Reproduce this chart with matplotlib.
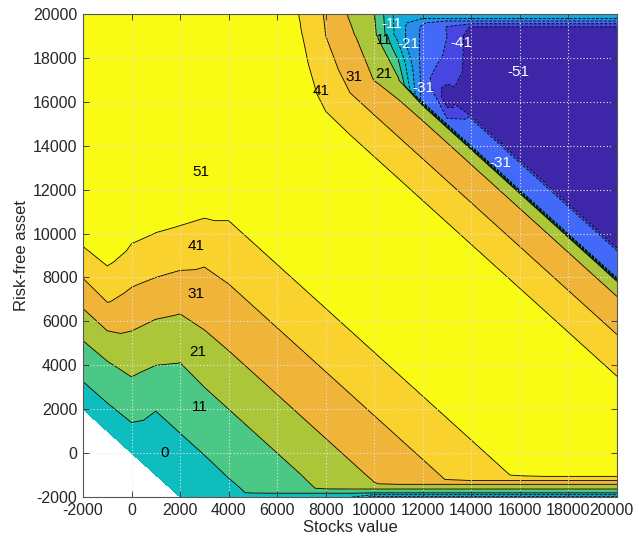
import numpy as np
import matplotlib.pyplot as plt
import matplotlib.transforms as mtransforms

plt.rcParams['font.family'] = ['Liberation Sans', 'DejaVu Sans']
plt.rcParams['axes.unicode_minus'] = False

# Columns: stocks value in thousands
stocks_k = [-2, -1, 0, 1, 2, 3, 4, 5, 6, 7, 8, 9, 10, 11, 12, 13, 14, 15, 16, 17, 18, 19, 20]

# Rows of the main grid follow lines of equal total wealth (stocks + risk-free), thousands
wealth_k = [0, 1, 2, 3, 4, 5, 6, 7, 8, 9, 10, 11, 12, 13, 14, 15, 16, 17, 18, 19, 20, 21, 22,
            23, 24, 25, 26, 27, 27.8, 28, 29, 29.2, 29.4, 30, 31, 32, 33, 36, 40]

# Values, one row per wealth level (columns = stocks_k)
policy = [
    [-1.4, -1.3, -1.7, -4, -4, -4] + [-4] * 17,
    [4.1, 4.0, 3.5, -0.8, -0.7, -0.9] + [-1] * 17,
    [9.6, 9.3, 8.6, 2.4, 2.6, 2.5] + [2.5] * 17,
    [15.2, 14.7, 13.7, 5.8, 5.8, 5.8] + [6] * 17,
    [21.9, 21.6, 18.6, 10.9, 9.0, 9.2] + [9] * 17,
    [28.9, 29.3, 23.3, 16, 12.3, 12.6] + [12.6] * 17,
    [36.3, 37.0, 28.1, 20.8, 15.5, 16] + [16] * 17,
    [43.2, 42.7, 33.2, 25.5, 19.8, 19.9] + [20] * 17,
    [50, 49, 38.3, 30.7, 24.3, 23.8] + [24] * 17,
    [56, 56, 43.3, 36, 29.3, 27.4] + [27] * 17,
    [56, 56, 48.3, 40.9, 34.4, 30.8] + [30.5] * 17,
    [56, 56, 56, 45.8, 39.4, 34.1] + [33.6] * 17,
    [56, 56, 56, 50.6, 44.3, 38.1] + [37] * 17,
    [56, 56, 56, 56, 49, 42.7] + [40.4] * 17,
    [56, 56, 56, 56, 56, 47.4] + [44] * 17,
    [56] * 6 + [47.4] * 17,
    [56] * 23,
    [56] * 23,
    [56] * 23,
    [56] * 23,
    [56] * 23,
    [56] * 23,
    [56] * 23,
    [56] * 9 + [50] + [49] * 13,
    [56] * 9 + [50, 43.7] + [43] * 12,
    [56] * 9 + [48, 41, 38.1] + [38] * 11,
    [56] * 9 + [46.4, 39.2] + [33] * 12,
    [56] * 9 + [44.7, 36, 30.8, 25.7] + [27] * 10,
    [56] * 9 + [44.7, 35.2, 28.5, 23.2, 19.1] + [21] * 9,
    [56] * 9 + [44.7, 35, 27.9, 22.6, 17.1] + [-31] * 9,
    [56] * 9 + [44.7, 35, 24.8, 18.6, 4, -29.6, -51] + [-32] * 7,
    [56] * 9 + [44.7, 35, 24.8, 18.1, 1, -29.4, -51] + [-34] * 7,
    [56] * 9 + [44.7, 35, 24.8, 17.5, -2, -29.2, -51] + [-51] * 7,
    [56] * 9 + [44.7, 35, 24.8, 16.3, -10.75, -28.5, -43.7] + [-51] * 7,
    [56] * 9 + [44.7, 35, 24.8, 16.3, -11.8, -28.4, -37.5] + [-51] * 7,
    [56] * 9 + [44.7, 35, 24.8, 16.3, -11.8, -27.5, -36] + [-51] * 7,
    [56] * 9 + [44.7, 35, 24.8, 16.3, -11.8, -27.5, -35.6] + [-51] * 7,
    [56] * 9 + [44.7, 35, 24.8, 16.3, -11.8, -27.5, -35.6] + [-51] * 7,
    [56] * 9 + [44.7, 35, 24.8, 16.3, -11.8, -27.5, -35.6] + [-51] * 7,
]

# Thin strip along the bottom edge (risk-free asset -2000 .. -1000), stocks 3000 .. 20000
floor_stocks_k = [3, 4, 5, 6, 7, 8, 9, 10, 11, 12, 13, 14, 15, 16, 17, 18, 19, 20]
floor_riskfree_k = [-2.0, -1.8, -1.6, -1.4, -1.2, -1.0]
floor_policy = [
    [-1] + [-4] * 6 + [-20] * 11,
    [-0.3, 3.2, 6.6] + [7] * 15,
    [0.4, 3.9, 7.2, 10.4, 14.0, 17.6] + [18] * 12,
    [1.1, 4.6, 7.8, 11.2, 14.6, 18.4, 22.4, 25.8] + [27] * 10,
    [1.8, 5.3, 8.4, 11.9, 15.3, 19.2, 23.2, 26.4, 29.8, 33.0, 36.3] + [39] * 7,
    [2.5, 6, 9, 12.6, 16, 20, 24, 27, 30.5, 33.6, 37, 40.4, 44, 47.4] + [49] * 4,
]

# Thin strip along the top edge (risk-free asset 19000 .. 20000), all stocks columns
top_riskfree_k = [19.0, 19.4, 19.6, 19.8, 20.0]
top_policy = [
    [56] * 9 + [46.4, 36.0, 27.9, 18.6, -10.75, -28.4, -36] + [-51] * 7,
    [56] * 9 + [45.7, 35.6, 26.7, 17.7, -11.2, -28, -36.5] + [-47] * 7,
    [56] * 9 + [45.5, 35.4, 26.1, 17.2, -11.4, -25, -33] + [-33] * 7,
    [56] * 9 + [45.0, 35.2, 25.4, 16.8, -11.6, -16, -16] + [-16] * 7,
    [56] * 9 + [44.7, 35.0, 24.8, 16.3, -11.8, -10, -10] + [-10] * 7,
]

levels = [-46, -36, -26, -16, -5.5, 5.5, 16, 26, 36, 46]
band_colors = ['#3E26A8', '#4746E2', '#4369F8', '#2A8DEB', '#15AADE', '#0EBDBE',
               '#4CC886', '#ACC63A', '#EFB438', '#FAD22D', '#F9FB15']

# contour labels (text, stocks, risk-free)
label_text = ['51', '41', '31', '21', '11', '0', '41', '31', '21', '11',
              '-11', '-21', '-31', '-41', '-51', '-31']
label_x = [2860, 2660, 2660, 2740, 2820, 1380, 7810, 9170, 10370, 10400,
           10720, 11400, 12020, 13600, 15940, 15180]
label_y = [12810, 9440, 7250, 4610, 2100, 0, 16500, 17130, 17270, 18800,
           19560, 18650, 16630, 18670, 17380, 13200]

# ---- build grids ----
xs = np.array(stocks_k, dtype=float) * 1000
ws = np.array(wealth_k, dtype=float) * 1000
X = np.tile(xs, (len(ws), 1))
Y = ws[:, None] - xs[None, :]
Z = np.array(policy, dtype=float)

Xf, Yf = np.meshgrid(np.array(floor_stocks_k) * 1000.0, np.array(floor_riskfree_k) * 1000.0)
Zf = np.array(floor_policy, dtype=float)

Xt, Yt = np.meshgrid(xs, np.array(top_riskfree_k) * 1000.0)
Zt = np.array(top_policy, dtype=float)

fig = plt.figure(figsize=(6.34, 5.43), dpi=100)
ax = fig.add_axes([0.1309, 0.0847, 0.8423, 0.8895])

z = 1.0
for gx, gy, gz in [(X, Y, Z), (Xf, Yf, Zf), (Xt, Yt, Zt)]:
    ax.contourf(gx, gy, gz, levels=levels, colors=band_colors, extend='both', zorder=z)
    ax.contour(gx, gy, gz, levels=levels, colors='k', linewidths=0.6, zorder=z + 0.05)
    z += 0.1

for t, lx, ly in zip(label_text, label_x, label_y):
    col = 'white' if t.startswith('-') else 'black'
    ax.text(lx, ly, t, color=col, fontsize=11, ha='center', va='center', zorder=3)

ax.set_xlim(-2000, 20000)
ax.set_ylim(-2000, 20000)
ax.set_xticks(range(-2000, 20001, 2000))
ax.set_yticks(range(-2000, 20001, 2000))
ax.set_axisbelow(False)
ax.grid(True, linestyle=(0, (1, 2)), color='#e6e6e6', linewidth=0.8)
ax.tick_params(direction='in', top=True, right=True, length=4, width=0.6,
               labelsize=11.5, colors='#262626', pad=4)
for sp in ax.spines.values():
    sp.set_color('#555555')
    sp.set_linewidth(0.8)
    sp.set_zorder(4)

# keep the last x tick label inside the figure
last = ax.get_xticklabels()[-1]
last.set_transform(last.get_transform() +
                   mtransforms.ScaledTranslation(-6 / 100, 0, fig.dpi_scale_trans))

ax.set_xlabel('Stocks value', fontsize=12, color='#262626', labelpad=2)
ax.set_ylabel('Risk-free asset', fontsize=12, color='#262626', labelpad=3)

fig.savefig('out.png', dpi=100)
